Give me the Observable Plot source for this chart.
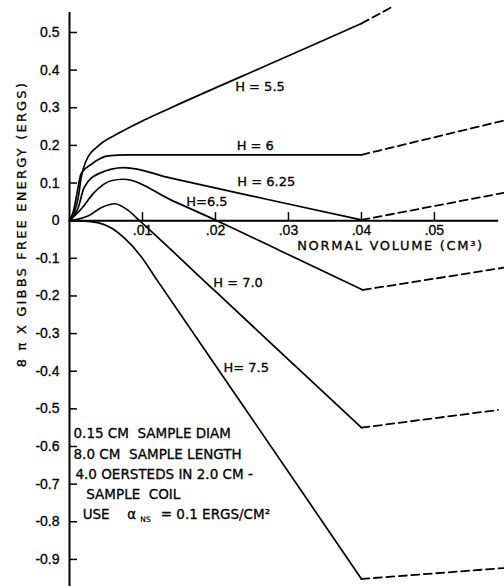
<!DOCTYPE html>
<html><head><meta charset="utf-8">
<script src="https://cdn.jsdelivr.net/npm/d3@7"></script>
<script src="https://cdn.jsdelivr.net/npm/@observablehq/plot@0.6"></script>
<style>body{margin:0;background:#fff;} #chart svg{display:block;}</style>
</head><body><div id="chart"></div>
<script>
// Tick values and labels
const xTicks = [0.01, 0.02, 0.03, 0.04, 0.05];
const xTickLabels = [".01", ".02", ".03", ".04", ".05"];
const yTicks = [-0.9, -0.8, -0.7, -0.6, -0.5, -0.4, -0.3, -0.2, -0.1, 0, 0.1, 0.2, 0.3, 0.4, 0.5];
const yTickLabels = ["-0.9", "-0.8", "-0.7", "-0.6", "-0.5", "-0.4", "-0.3", "-0.2", "-0.1", "0", "0.1", "0.2", "0.3", "0.4", "0.5"];

// Solid curves (normal volume cm^3, 8*pi*Gibbs free energy ergs)
const h55X = [0, 0.0007, 0.0012, 0.0016, 0.0023, 0.0039, 0.0067, 0.0103, 0.0139, 0.028, 0.040];
const h55Y = [0, 0.025, 0.062, 0.115, 0.160, 0.198, 0.232, 0.268, 0.300, 0.421, 0.524];
const h6X = [0, 0.0006, 0.0010, 0.0016, 0.0030, 0.0053, 0.0080, 0.020, 0.040];
const h6Y = [0, 0.030, 0.070, 0.125, 0.150, 0.172, 0.175, 0.175, 0.175];
const h625X = [0, 0.0012, 0.0020, 0.0040, 0.0075, 0.0139, 0.027, 0.040];
const h625Y = [0, 0.035, 0.088, 0.125, 0.141, 0.113, 0.057, 0.002];
const h65X = [0, 0.0016, 0.0034, 0.0057, 0.0074, 0.0140, 0.0202, 0.0290, 0.0402];
const h65Y = [0, 0.031, 0.075, 0.106, 0.110, 0.054, 0, -0.081, -0.184];
const h70X = [0, 0.0012, 0.0026, 0.0044, 0.0062, 0.0080, 0.0096, 0.020, 0.030, 0.040];
const h70Y = [0, 0.004, 0.013, 0.035, 0.045, 0.028, 0, -0.188, -0.369, -0.550];
const h75X = [0, 0.0020, 0.0040, 0.0058, 0.0075, 0.0098, 0.0120, 0.0239, 0.033, 0.040];
const h75Y = [0, -0.001, -0.006, -0.020, -0.046, -0.095, -0.158, -0.495, -0.753, -0.952];

// Dashed extensions beyond 0.04 cm^3
const d55X = [0.040, 0.0443];
const d55Y = [0.524, 0.569];
const d6X = [0.040, 0.0595];
const d6Y = [0.175, 0.266];
const d625X = [0.040, 0.0595];
const d625Y = [0.002, 0.074];
const d65X = [0.0402, 0.0595];
const d65Y = [-0.184, -0.125];
const d70X = [0.040, 0.0587];
const d70Y = [-0.550, -0.503];
const d75X = [0.040, 0.0595];
const d75Y = [-0.952, -0.923];

const seriesNames = ["H = 5.5", "H = 6", "H = 6.25", "H = 6.5", "H = 7.0", "H = 7.5"];
const solidX = [h55X, h6X, h625X, h65X, h70X, h75X];
const solidY = [h55Y, h6Y, h625Y, h65Y, h70Y, h75Y];
const dashX = [d55X, d6X, d625X, d65X, d70X, d75X];
const dashY = [d55Y, d6Y, d625Y, d65Y, d70Y, d75Y];

function toRows(xs, ys) {
  return seriesNames.flatMap((s, k) => xs[k].map((x, i) => ({series: s, x, y: ys[k][i]})));
}
const solidRows = toRows(solidX, solidY);
const dashRows = toRows(dashX, dashY);

// curve labels (text, anchor position in data units)
const curveLabels = [
  {text: "H = 5.5", x: 0.0227, y: 0.356},
  {text: "H = 6", x: 0.0229, y: 0.200},
  {text: "H = 6.25", x: 0.0230, y: 0.104},
  {text: "H=6.5", x: 0.0160, y: 0.051},
  {text: "H = 7.0", x: 0.0197, y: -0.164},
  {text: "H= 7.5", x: 0.0211, y: -0.390}
];

const noteLines = [
  {text: "0.15 CM  SAMPLE DIAM", x: 0.00055, y: -0.566},
  {text: "8.0 CM  SAMPLE LENGTH", x: 0.00055, y: -0.621},
  {text: "4.0 OERSTEDS IN 2.0 CM -", x: 0.00082, y: -0.674},
  {text: "SAMPLE  COIL", x: 0.0023, y: -0.727},
  {text: "USE", x: 0.0018, y: -0.781},
  {text: "α", x: 0.0079, y: -0.781},
  {text: "= 0.1 ERGS/CM²", x: 0.0125, y: -0.781}
];

const xLabel = "NORMAL VOLUME (CM³)";
const yLabel = "8 π X GIBBS FREE ENERGY (ERGS)";

const font = "DejaVu Sans";
const tw = 0.3; // slight text stroke to mimic heavy lettering
const chart = Plot.plot({
  width: 504, height: 586,
  marginLeft: 69, marginRight: 0, marginTop: 0, marginBottom: 0,
  style: {background: "white", color: "black", fontFamily: font},
  x: {domain: [0, 0.0596], axis: null},
  y: {domain: [-0.972, 0.585]},
  marks: [
    Plot.axisY(yTicks, {anchor: "left", tickSize: -8, tickPadding: 18, strokeWidth: 1.5,
      tickFormat: d => yTickLabels[yTicks.indexOf(d)], fontSize: 14, fontFamily: "Liberation Sans", label: null}),
    Plot.ruleX([0], {y1: -0.972, y2: 0.553, strokeWidth: 2}),
    Plot.ruleY([0], {x1: 0, x2: 0.0588, strokeWidth: 2}),
    Plot.ruleX(xTicks, {x: d => d, y1: 0, y2: 0.0213, strokeWidth: 1.5}),
    Plot.text(xTicks, {x: d => d, y: 0, dy: 4, lineAnchor: "top", text: (d, i) => xTickLabels[i],
      fontSize: 14, fontFamily: "Liberation Sans", fill: "black", stroke: "black", strokeWidth: tw}),
    Plot.text([xLabel], {x: 0.0312, y: 0, dy: 25, textAnchor: "start", lineAnchor: "middle",
      fontSize: 13, fill: "black", stroke: "black", strokeWidth: tw}),
    Plot.text([yLabel], {x: 0, y: -0.009, dx: -48, rotate: -90,
      fontSize: 13, fill: "black", stroke: "black", strokeWidth: tw}),
    Plot.line(solidRows, {x: "x", y: "y", z: "series", curve: "monotone-x", stroke: "black", strokeWidth: 1.7}),
    Plot.line(dashRows, {x: "x", y: "y", z: "series", stroke: "black", strokeWidth: 1.8, strokeDasharray: "8,4.5"}),
    Plot.text(curveLabels, {x: "x", y: "y", text: "text", textAnchor: "start", lineAnchor: "middle",
      fontSize: 13, fill: "black", stroke: "black", strokeWidth: tw}),
    Plot.text(noteLines, {x: "x", y: "y", text: "text", textAnchor: "start", lineAnchor: "middle",
      fontSize: 13.5, fill: "black", stroke: "black", strokeWidth: tw}),
    Plot.text(["NS"], {x: 0.0097, y: -0.794, textAnchor: "start", lineAnchor: "middle", fontSize: 7.5,
      fill: "black", stroke: "black", strokeWidth: 0.2})
  ]
});
document.getElementById("chart").append(chart);

// stretch the hand-lettered axis titles to their measured widths
function stretch(label, target) {
  d3.select(chart).selectAll("text").filter(function() { return this.textContent === label; })
    .each(function() {
      const len = this.getComputedTextLength();
      const n = label.length - 1;
      if (len > 0 && n > 0) d3.select(this).attr("letter-spacing", ((target - len) / n).toFixed(2) + "px");
    });
}
stretch(xLabel, 185);
stretch(yLabel, 284);
// y tick labels slightly heavier
d3.select(chart).selectAll("g[aria-label='y-axis tick label'] text").attr("stroke", "black").attr("stroke-width", tw);
</script>
</body></html>
